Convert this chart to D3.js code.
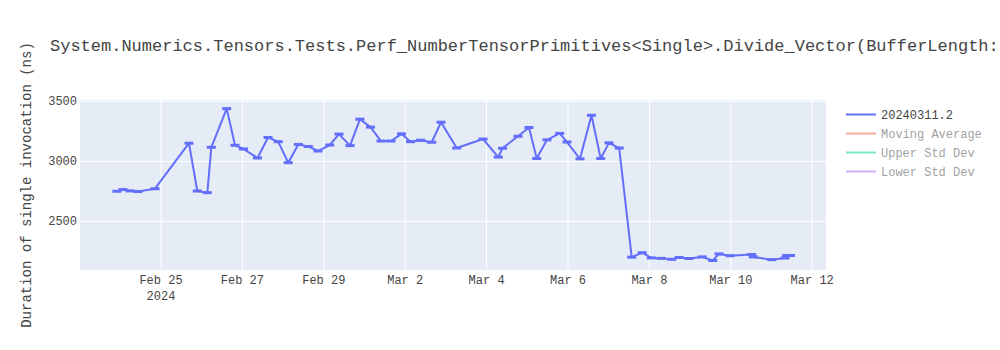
<!DOCTYPE html>
<html>
<head>
<meta charset="utf-8">
<script src="https://d3js.org/d3.v7.min.js"></script>
<style>
  body { margin: 0; background: #fff; }
  svg text { font-family: "Courier New", "Liberation Mono", monospace; }
</style>
</head>
<body>
<svg width="1000" height="350"></svg>
<script>
// run timestamps and durations (ns)
const times = [
  "2024-02-23T22:00", "2024-02-24T01:35", "2024-02-24T05:43", "2024-02-24T10:26", "2024-02-24T20:28",
  "2024-02-25T16:30", "2024-02-25T21:24", "2024-02-26T03:19", "2024-02-26T05:40", "2024-02-26T14:44",
  "2024-02-26T19:38", "2024-02-27T00:39", "2024-02-27T08:54", "2024-02-27T15:06", "2024-02-27T21:07",
  "2024-02-28T03:00", "2024-02-28T08:57", "2024-02-28T14:51", "2024-02-28T20:34", "2024-02-29T03:28",
  "2024-02-29T08:57", "2024-02-29T15:27", "2024-02-29T21:20", "2024-03-01T03:32", "2024-03-01T09:43",
  "2024-03-01T15:37", "2024-03-01T21:49", "2024-03-02T03:07", "2024-03-02T09:08", "2024-03-02T15:37",
  "2024-03-02T21:07", "2024-03-03T06:22", "2024-03-03T21:53", "2024-03-04T06:53", "2024-03-04T09:22",
  "2024-03-04T18:30", "2024-03-05T01:00", "2024-03-05T05:32", "2024-03-05T11:37", "2024-03-05T19:06",
  "2024-03-05T23:24", "2024-03-06T07:05", "2024-03-06T13:51", "2024-03-06T19:16", "2024-03-07T00:10",
  "2024-03-07T06:11", "2024-03-07T13:34", "2024-03-07T19:45", "2024-03-08T01:08", "2024-03-08T06:51",
  "2024-03-08T13:09", "2024-03-08T17:34", "2024-03-08T23:14", "2024-03-09T07:08", "2024-03-09T13:19",
  "2024-03-09T17:02", "2024-03-09T23:31", "2024-03-10T12:18", "2024-03-10T13:16", "2024-03-11T00:07",
  "2024-03-11T07:58", "2024-03-11T08:57", "2024-03-11T11:13"
]
const durations = [
  2752, 2766, 2755, 2750, 2773,
  3152, 2754, 2740, 3118, 3440,
  3135, 3104, 3029, 3200, 3165,
  2990, 3142, 3125, 3087, 3137,
  3228, 3132, 3352, 3286, 3170,
  3170, 3230, 3165, 3177, 3160,
  3327, 3112, 3187, 3037, 3110,
  3210, 3283, 3025, 3180, 3234,
  3162, 3022, 3385, 3025, 3155,
  3112, 2203, 2240, 2197, 2193,
  2185, 2200, 2192, 2205, 2175,
  2230, 2215, 2225, 2205, 2182,
  2196, 2217, 2217
]
const yTicks = [2500, 3000, 3500]
const xTickDates = ["2024-02-25", "2024-02-27", "2024-02-29", "2024-03-02", "2024-03-04",
                    "2024-03-06", "2024-03-08", "2024-03-10", "2024-03-12"]
const legendNames = ["20240311.2", "Moving Average", "Upper Std Dev", "Lower Std Dev"]
const legendColors = ["#636efa", "#EF553B", "#00cc96", "#ab63fa"]
const titleText = "System.Numerics.Tensors.Tests.Perf_NumberTensorPrimitives<Single>.Divide_Vector(BufferLength:"

const svg = d3.select("svg")
const plotL = 80, plotR = 826, plotT = 100, plotB = 270
const parse = d3.timeParse("%Y-%m-%dT%H:%M")
const parseDay = d3.timeParse("%Y-%m-%d")
const data = times.map((t, i) => ({t: parse(t), v: durations[i]}))

const x = d3.scaleTime()
  .domain([parse("2024-02-23T00:14"), parse("2024-03-12T08:08")])
  .range([plotL, plotR])
const y = d3.scaleLinear().domain([2096, 3512]).range([plotB, plotT])

// plot background
svg.append("rect").attr("x", plotL).attr("y", plotT)
  .attr("width", plotR - plotL).attr("height", plotB - plotT)
  .attr("fill", "#E5ECF6")

const xt = xTickDates.map(parseDay)
svg.append("g").selectAll("line").data(xt).enter().append("line")
  .attr("x1", d => x(d)).attr("x2", d => x(d))
  .attr("y1", plotT).attr("y2", plotB)
  .attr("stroke", "#fff").attr("stroke-width", 1)
svg.append("g").selectAll("line").data(yTicks).enter().append("line")
  .attr("x1", plotL).attr("x2", plotR)
  .attr("y1", d => y(d)).attr("y2", d => y(d))
  .attr("stroke", "#fff").attr("stroke-width", 1)

// tick labels
svg.append("g").selectAll("text").data(xt).enter().append("text")
  .attr("x", d => x(d)).attr("y", 284)
  .attr("text-anchor", "middle").attr("font-size", 12).attr("fill", "#444")
  .text(d => d3.timeFormat("%b %-d")(d))
svg.append("text").attr("x", x(xt[0])).attr("y", 300)
  .attr("text-anchor", "middle").attr("font-size", 12).attr("fill", "#444")
  .text("2024")
svg.append("g").selectAll("text").data(yTicks).enter().append("text")
  .attr("x", 77).attr("y", d => y(d) + 4)
  .attr("text-anchor", "end").attr("font-size", 12).attr("fill", "#444")
  .text(d => d)

// series
const line = d3.line().x(d => x(d.t)).y(d => y(d.v))
svg.append("path").datum(data).attr("d", line)
  .attr("fill", "none").attr("stroke", "#636efa").attr("stroke-width", 2)
  .attr("stroke-linejoin", "round")
svg.append("g").selectAll("line").data(data).enter().append("line")
  .attr("x1", d => x(d.t) - 4.5).attr("x2", d => x(d.t) + 4.5)
  .attr("y1", d => y(d.v)).attr("y2", d => y(d.v))
  .attr("stroke", "#636efa").attr("stroke-width", 3)

// titles
svg.append("text").attr("x", 50).attr("y", 51)
  .attr("font-size", 17).attr("fill", "#444").text(titleText)
svg.append("text")
  .attr("transform", "translate(31," + ((plotT + plotB) / 2) + ") rotate(-90)")
  .attr("text-anchor", "middle").attr("font-size", 14).attr("fill", "#444")
  .text("Duration of single invocation (ns)")

// legend
const lg = svg.append("g").selectAll("g").data(legendNames).enter().append("g")
  .attr("transform", (d, i) => "translate(846," + (114.5 + i * 19) + ")")
  .attr("opacity", (d, i) => i === 0 ? 1 : 0.5)
lg.append("line").attr("x1", 0).attr("x2", 30).attr("y1", 0).attr("y2", 0)
  .attr("stroke", (d, i) => legendColors[i]).attr("stroke-width", 2)
lg.append("text").attr("x", 35).attr("y", 4)
  .attr("font-size", 12).attr("fill", "#444").text(d => d)
</script>
</body>
</html>
